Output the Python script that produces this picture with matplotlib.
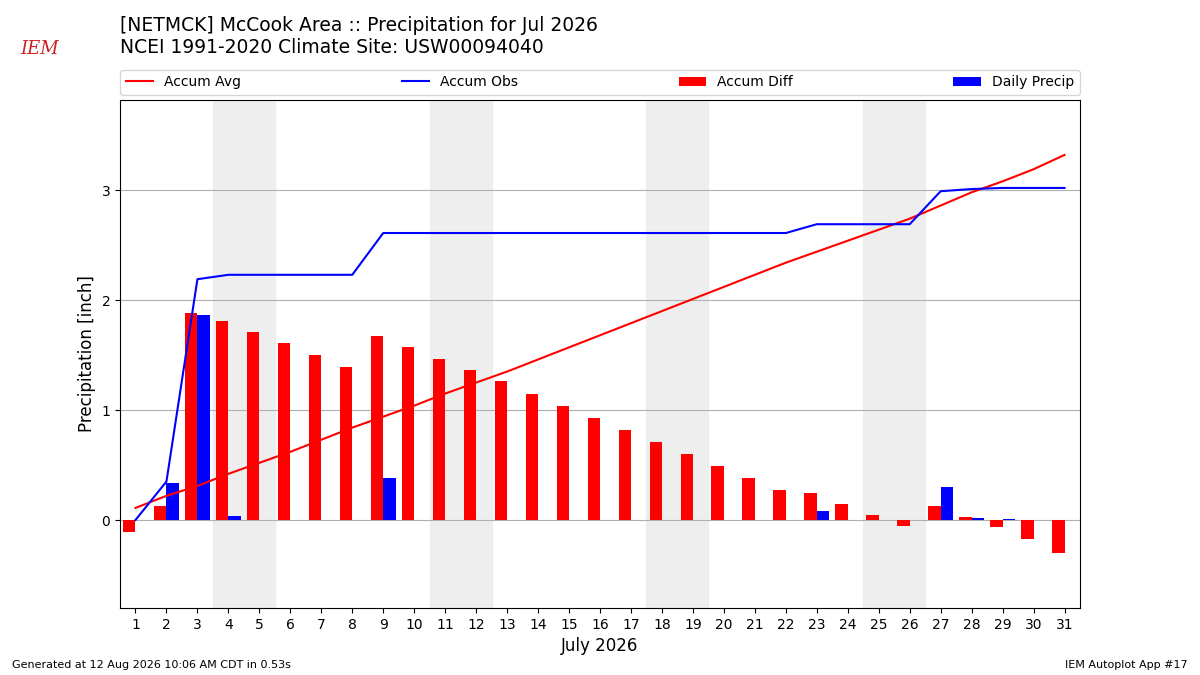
import matplotlib
matplotlib.use("Agg")
import matplotlib.pyplot as plt
import numpy as np

days = list(range(1, 32))
accum_avg = [0.11,0.22,0.31,0.42,0.52,0.62,0.73,0.84,0.94,1.04,1.15,1.25,1.35,1.46,1.57,1.68,1.79,1.90,2.01,2.12,2.23,2.34,2.44,2.54,2.64,2.74,2.86,2.98,3.08,3.19,3.32]
accum_obs = [0.0,0.35,2.19,2.23,2.23,2.23,2.23,2.23,2.61,2.61,2.61,2.61,2.61,2.61,2.61,2.61,2.61,2.61,2.61,2.61,2.61,2.61,2.69,2.69,2.69,2.69,2.99,3.01,3.02,3.02,3.02]
accum_diff = [-0.11,0.13,1.88,1.81,1.71,1.61,1.50,1.39,1.67,1.57,1.46,1.36,1.26,1.15,1.04,0.93,0.82,0.71,0.60,0.49,0.38,0.27,0.25,0.15,0.05,-0.05,0.13,0.03,-0.06,-0.17,-0.30]
daily = [0,0.34,1.86,0.04,0,0,0,0,0.38,0,0,0,0,0,0,0,0,0,0,0,0,0,0.08,0,0,0,0.30,0.02,0.01,0,0]
weekends = [(4,5),(11,12),(18,19),(25,26)]

fig = plt.figure(figsize=(12,6.75), dpi=100)
ax = fig.add_axes([0.1, 0.0993, 0.8, 0.7526])
d = np.array(days)
for a, b in weekends:
    ax.axvspan(a-0.5, b+0.5, color="#eeeeee", zorder=0)
ax.plot(d, accum_avg, color="red", label="Accum Avg", zorder=3)
ax.plot(d, accum_obs, color="blue", label="Accum Obs", zorder=3)
ax.bar(d-0.2, accum_diff, width=0.4, color="red", label="Accum Diff", zorder=2)
ax.bar(d+0.2, daily, width=0.4, color="blue", label="Daily Precip", zorder=2)
ax.set_xlim(0.5, 31.5)
ax.set_ylim(-0.8, 3.82)
ax.set_xticks(days)
ax.set_yticks([0,1,2,3])
ax.grid(axis="y", color="#b0b0b0", zorder=1)
ax.set_axisbelow(True)
ax.set_ylabel("Precipitation [inch]", fontsize=12)
ax.set_xlabel("July 2026", fontsize=12)
ax.legend(loc="lower left", bbox_to_anchor=(0, 1.01, 1, 0.05), ncol=4, mode="expand", fontsize=10, borderaxespad=0)
fig.text(0.1, 0.915, "[NETMCK] McCook Area :: Precipitation for Jul 2026\nNCEI 1991-2020 Climate Site: USW00094040", fontsize=13.5, va="bottom", ha="left")
fig.text(0.01, 0.01, "Generated at 12 Aug 2026 10:06 AM CDT in 0.53s", fontsize=8)
fig.text(0.99, 0.01, "IEM Autoplot App #17", fontsize=8, ha="right")
fig.text(0.017, 0.92, "IEM", fontsize=13, color="#cc2222", family="DejaVu Serif", style="italic")
fig.savefig("out.png")
